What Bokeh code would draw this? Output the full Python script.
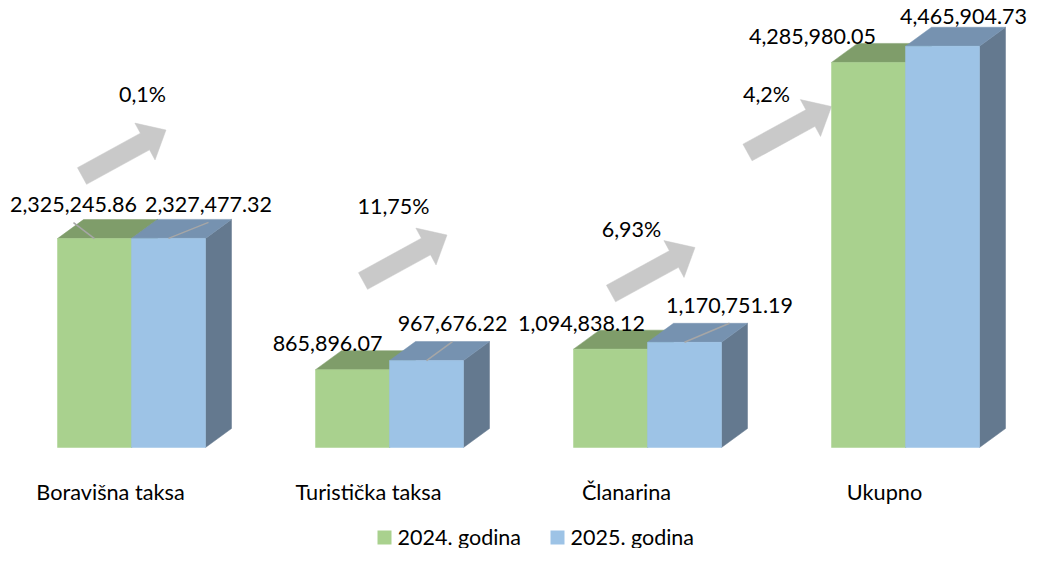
import math
from bokeh.plotting import figure
from bokeh.models import Range1d
from bokeh.core.properties import value
from bokeh.embed import file_html
from bokeh.resources import INLINE

# ---------------- data ----------------
categories = ["Boravišna taksa", "Turistička taksa", "Članarina", "Ukupno"]
series_names = ["2024. godina", "2025. godina"]
values_2024 = [2325245.86, 865896.07, 1094838.12, 4285980.05]
values_2025 = [2327477.32, 967676.22, 1170751.19, 4465904.73]
growth_labels = ["0,1%", "11,75%", "6,93%", "4,2%"]

# ---------------- layout / style ----------------
W, H = 1028, 548
ORIG_X, BASE_Y = 131, 447        # px of category 0 centre / value zero
PX_CAT = 258                     # px per category
UPP = 11130.0                    # value units per px
BAR_PX = 74
DEPTH_X, DEPTH_Y = 26, 19
FONT = value("Lato")
FS = "21.5px"
TXT_DY = -8                      # baseline correction (px)

GREEN = dict(front="#A9D18E", top="#7F9D6A", side="#6E8A5C")
BLUE = dict(front="#9DC3E6", top="#7692B0", side="#64798F")
ARROW_COL = "#C9C9C9"

# value label offsets (px) from front-top centre: (dx, baseline dy), leader?
lab_off_2024 = [(-21, -26, True), (-25, -18, False), (-29, -18, False), (-56, -18, False)]
lab_off_2025 = [(40, -26, True), (26, -29, True), (45, -29, True), (21, -22, False)]
# arrows: tail centre (px), growth label centre/baseline (px)
arrow_tails = [(81.5, 175.5), (362.5, 280.5), (610.5, 293), (747, 152)]
growth_pos = [(142, 101), (393, 213), (631, 236), (766, 101)]
ARROW_VEC = (84, -46)
SHAFT_W, HEAD_W, HEAD_L = 19, 42, 24
CAT_LABEL_BASE = 499
LEG_SQ_X = [377, 550]
LEG_BASE = 544


def X(px):
    return (px - ORIG_X) / PX_CAT


def Y(py):
    return (BASE_Y - py) * UPP


p = figure(width=W, height=H, output_backend="svg", toolbar_location=None,
           x_range=Range1d(X(0), X(W)), y_range=Range1d(Y(H), Y(0)),
           min_border=0, outline_line_color=None)
p.axis.visible = False
p.grid.visible = False
p.background_fill_color = "white"
p.border_fill_color = "white"

# ---------------- arrows ----------------
L = math.hypot(*ARROW_VEC)
ux, uy = ARROW_VEC[0] / L, ARROW_VEC[1] / L
nx, ny = -uy, ux
axs, ays = [], []
for (tx, ty) in arrow_tails:
    b = L - HEAD_L
    pts = [
        (tx + nx * SHAFT_W / 2, ty + ny * SHAFT_W / 2),
        (tx + ux * b + nx * SHAFT_W / 2, ty + uy * b + ny * SHAFT_W / 2),
        (tx + ux * b + nx * HEAD_W / 2, ty + uy * b + ny * HEAD_W / 2),
        (tx + ux * L, ty + uy * L),
        (tx + ux * b - nx * HEAD_W / 2, ty + uy * b - ny * HEAD_W / 2),
        (tx + ux * b - nx * SHAFT_W / 2, ty + uy * b - ny * SHAFT_W / 2),
        (tx - nx * SHAFT_W / 2, ty - ny * SHAFT_W / 2),
    ]
    axs.append([X(a) for a, _ in pts])
    ays.append([Y(c) for _, c in pts])
p.patches(axs, ays, fill_color=ARROW_COL, line_color=ARROW_COL, line_width=0.5)

# ---------------- 3D bars ----------------
bw = BAR_PX / PX_CAT
ddx = DEPTH_X / PX_CAT
ddy = DEPTH_Y * UPP


def draw_series(vals, shift, col):
    lefts = [i + shift for i in range(len(vals))]
    rights = [l + bw for l in lefts]
    tx, ty, sx, sy = [], [], [], []
    for l, r, v in zip(lefts, rights, vals):
        tx.append([l, r, r + ddx, l + ddx])
        ty.append([v, v, v + ddy, v + ddy])
        sx.append([r, r + ddx, r + ddx, r])
        sy.append([0, ddy, v + ddy, v])
    p.patches(sx, sy, fill_color=col["side"], line_color=col["side"], line_width=0.5)
    p.patches(tx, ty, fill_color=col["top"], line_color=col["top"], line_width=0.5)
    p.quad(left=lefts, right=rights, bottom=0, top=vals,
           fill_color=col["front"], line_color=col["front"], line_width=0.5)


draw_series(values_2024, -bw, GREEN)
draw_series(values_2025, 0, BLUE)

# ---------------- value labels & leaders ----------------
lx, ly, lt = [], [], []
sx0, sy0, sx1, sy1 = [], [], [], []
for vals, shift, offs in ((values_2024, -bw / 2, lab_off_2024), (values_2025, bw / 2, lab_off_2025)):
    for i, (v, (dx, dy, lead)) in enumerate(zip(vals, offs)):
        cx = i + shift
        x = cx + dx / PX_CAT
        lx.append(x)
        ly.append(v - (dy + TXT_DY) * UPP)
        lt.append(f"{v:,.2f}")
        if lead:
            sx0.append(x)
            sy0.append(v - (dy + 10) * UPP)
            sx1.append(cx)
            sy1.append(v)
p.segment(sx0, sy0, sx1, sy1, line_color="#A6A6A6", line_width=1.5)
p.text(lx, ly, text=lt, text_font=FONT, text_font_size=FS,
       text_align="center", text_baseline="alphabetic", text_color="#000000")

# growth labels
p.text([X(a) for a, _ in growth_pos], [Y(c + TXT_DY) for _, c in growth_pos], text=growth_labels,
       text_font=FONT, text_font_size=FS, text_align="center",
       text_baseline="alphabetic", text_color="#000000")

# category labels
p.text([i - 21 / PX_CAT for i in range(len(categories))],
       [Y(CAT_LABEL_BASE + TXT_DY)] * len(categories),
       text=categories, text_font=FONT, text_font_size="21.7px", text_align="center",
       text_baseline="alphabetic", text_color="#000000")

# ---------------- legend ----------------
p.quad(left=[X(a) for a in LEG_SQ_X], right=[X(a + 14) for a in LEG_SQ_X],
       bottom=[Y(LEG_BASE)] * 2, top=[Y(LEG_BASE - 14)] * 2,
       fill_color=[GREEN["front"], BLUE["front"]], line_color=None)
p.text([X(a + 20) for a in LEG_SQ_X], [Y(LEG_BASE + TXT_DY)] * 2, text=series_names,
       text_font=FONT, text_font_size=FS, text_align="left",
       text_baseline="alphabetic", text_color="#000000")

open("out.html", "w").write(file_html(p, INLINE))
